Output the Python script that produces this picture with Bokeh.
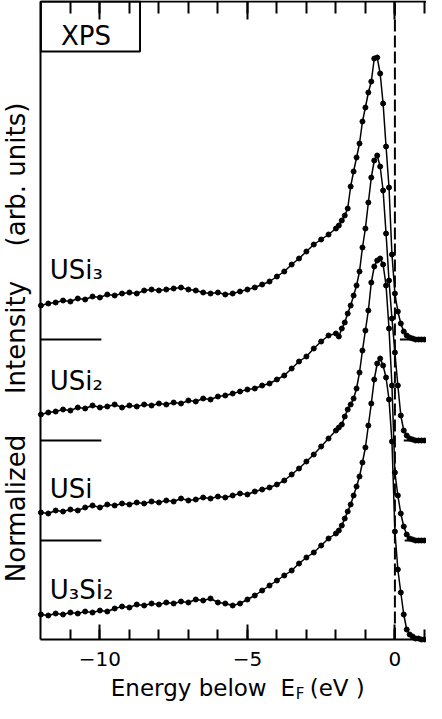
import math
from bokeh.plotting import figure
from bokeh.models import Range1d, LinearAxis, FixedTicker, BoxAnnotation, Label
from bokeh.embed import file_html
from bokeh.resources import INLINE

# ---------------- data ----------------
ENERGY = [-12.0, -11.75, -11.5, -11.25, -11.0, -10.75, -10.5, -10.25, -10.0, -9.75,
          -9.5, -9.25, -9.0, -8.75, -8.5, -8.25, -8.0, -7.75, -7.5, -7.25,
          -7.0, -6.75, -6.5, -6.25, -6.0, -5.75, -5.5, -5.25, -5.0, -4.75,
          -4.5, -4.25, -4.0, -3.75, -3.5, -3.25, -3.0, -2.75, -2.5, -2.25,
          -2.0, -1.9, -1.8, -1.7, -1.6, -1.5, -1.4, -1.3, -1.2, -1.1,
          -1.0, -0.9, -0.8, -0.7, -0.6, -0.5, -0.4, -0.3, -0.2, -0.1,
          0.0, 0.1, 0.2, 0.3, 0.4, 0.5, 0.6, 0.7, 0.8, 0.9, 1.0]

USI3 = [0.34, 0.36, 0.37, 0.39, 0.38, 0.41, 0.40, 0.43, 0.42, 0.45,
        0.44, 0.46, 0.47, 0.46, 0.49, 0.50, 0.49, 0.50, 0.51, 0.52,
        0.50, 0.49, 0.47, 0.46, 0.47, 0.45, 0.46, 0.48, 0.50, 0.52,
        0.55, 0.58, 0.63, 0.68, 0.75, 0.81, 0.88, 0.95, 1.00, 1.05,
        1.11, 1.14, 1.19, 1.24, 1.31, 1.53, 1.68, 1.82, 1.96, 2.18,
        2.32, 2.47, 2.58, 2.81, 2.82, 2.66, 2.36, 1.93, 1.52, 0.85,
        0.46, 0.28, 0.16, 0.08, 0.04, 0.02, 0.01, 0.0, 0.0, 0.0, 0.0]

USI2 = [0.26, 0.28, 0.29, 0.31, 0.30, 0.33, 0.32, 0.35, 0.33, 0.34,
        0.36, 0.33, 0.35, 0.34, 0.36, 0.35, 0.37, 0.36, 0.38, 0.37,
        0.40, 0.39, 0.42, 0.41, 0.44, 0.45, 0.47, 0.49, 0.51, 0.52,
        0.55, 0.57, 0.61, 0.65, 0.72, 0.79, 0.84, 0.92, 0.99, 1.05,
        1.07, 1.04, 1.12, 1.18, 1.27, 1.35, 1.45, 1.55, 1.69, 1.93,
        2.12, 2.38, 2.63, 2.80, 2.85, 2.74, 2.50, 2.07, 1.60, 1.22,
        0.88, 0.55, 0.25, 0.10, 0.05, 0.02, 0.01, 0.0, 0.0, 0.0, 0.0]

USI = [0.28, 0.27, 0.30, 0.29, 0.31, 0.30, 0.33, 0.35, 0.33, 0.36,
       0.35, 0.37, 0.36, 0.38, 0.37, 0.39, 0.38, 0.40, 0.39, 0.42,
       0.40, 0.41, 0.43, 0.42, 0.44, 0.43, 0.45, 0.47, 0.46, 0.49,
       0.51, 0.53, 0.56, 0.60, 0.66, 0.72, 0.79, 0.86, 0.94, 1.02,
       1.10, 1.13, 1.16, 1.24, 1.31, 1.36, 1.42, 1.52, 1.68, 1.90,
       2.10, 2.30, 2.58, 2.74, 2.80, 2.82, 2.76, 2.55, 2.12, 1.55,
       0.68, 0.45, 0.27, 0.14, 0.06, 0.02, 0.01, 0.0, 0.0, 0.0, 0.0]

U3SI2 = [0.25, 0.24, 0.26, 0.25, 0.27, 0.26, 0.28, 0.27, 0.29, 0.28,
         0.31, 0.33, 0.32, 0.35, 0.34, 0.36, 0.35, 0.37, 0.36, 0.38,
         0.37, 0.40, 0.39, 0.41, 0.37, 0.36, 0.34, 0.36, 0.40, 0.44,
         0.49, 0.54, 0.59, 0.64, 0.69, 0.76, 0.82, 0.87, 0.94, 1.01,
         1.06, 1.09, 1.14, 1.21, 1.28, 1.35, 1.44, 1.53, 1.63, 1.77,
         1.92, 2.14, 2.36, 2.60, 2.76, 2.81, 2.74, 2.62, 2.40, 1.98,
         1.08, 0.70, 0.47, 0.25, 0.10, 0.05, 0.03, 0.01, 0.01, 0.0, 0.0]

SERIES = [USI3, USI2, USI, U3SI2]
NAMES = ["USi\u2083", "USi\u2082", "USi", "U\u2083Si\u2082"]
OFFSETS = [3.0, 1.99, 0.99, 0.0]
NAME_Y = [3.70, 2.59, 1.51, 0.50]
BASE_LEFT = [-12.0, -9.95]
BASE_RIGHT_START = [0.17, 0.30, 0.33]

MAJOR_TICKS = [-10, -5, 0]
MINOR_TICKS = [-11, -10, -9, -8, -7, -6, -5, -4, -3, -2, -1, 0, 1]
TICK_LABELS = {-10: "\u221210", -5: "\u22125", 0: "0"}

X_AXIS_LEFT = -12.0          # where the left axis sits
Y_AXIS_BOTTOM = 0.0          # where the bottom axis sits
Y_AXIS_TOP = 6.38            # where the top axis sits
X_START, X_END = -13.37, 1.071
Y_START, Y_END = -0.64, 6.39

FONT = "DejaVu Sans"

# ---------------- figure (frame covers the whole canvas) ----------------
p = figure(width=426, height=703, output_backend="svg", toolbar_location=None,
           x_range=Range1d(X_START, X_END), y_range=Range1d(Y_START, Y_END),
           x_axis_location=None, y_axis_location=None, min_border=0)
p.outline_line_color = None
p.grid.visible = False
p.background_fill_color = "white"
p.border_fill_color = "white"


def style_axis(ax, tick_major, tick_minor, line=True):
    ax.axis_line_width = 2
    ax.axis_line_color = "black" if line else None
    ax.major_tick_in = tick_major
    ax.major_tick_out = 0
    ax.minor_tick_in = tick_minor
    ax.minor_tick_out = 0
    ax.major_tick_line_width = 2
    ax.minor_tick_line_width = 2
    ax.major_tick_line_color = "black"
    ax.minor_tick_line_color = "black"


# bottom axis (with labels)
xb = LinearAxis(ticker=FixedTicker(ticks=MAJOR_TICKS, minor_ticks=MINOR_TICKS),
                major_label_overrides=TICK_LABELS, fixed_location=Y_AXIS_BOTTOM,
                bounds=(X_AXIS_LEFT, X_END))
style_axis(xb, 15, 10)
xb.major_label_text_font = FONT
xb.major_label_text_font_size = "20px"
xb.major_label_text_color = "black"
xb.major_label_standoff = 12
p.add_layout(xb, "below")

# top axis: short ticks + line, then long ticks (no labels)
xt1 = LinearAxis(ticker=FixedTicker(ticks=[], minor_ticks=MINOR_TICKS),
                 fixed_location=Y_AXIS_TOP, bounds=(X_AXIS_LEFT, X_END))
style_axis(xt1, 0, 12)
p.add_layout(xt1, "above")
xt2 = LinearAxis(ticker=FixedTicker(ticks=[], minor_ticks=MAJOR_TICKS),
                 fixed_location=Y_AXIS_TOP, bounds=(X_AXIS_LEFT, X_END))
style_axis(xt2, 0, 18, line=False)
p.add_layout(xt2, "above")

# left axis: plain line
yl = LinearAxis(ticker=FixedTicker(ticks=[]), fixed_location=X_AXIS_LEFT,
                bounds=(Y_AXIS_BOTTOM, Y_AXIS_TOP))
style_axis(yl, 0, 0)
p.add_layout(yl, "left")

# Fermi level
p.line([0, 0], [Y_AXIS_BOTTOM, Y_AXIS_TOP], line_color="black",
       line_width=2, line_dash="12 4")

# baselines
for off, xr in zip(OFFSETS[:3], BASE_RIGHT_START):
    p.line(BASE_LEFT, [off, off], line_color="black", line_width=2)
    p.line([xr, X_END], [off, off], line_color="black", line_width=2)

# spectra
for vals, off in zip(SERIES, OFFSETS):
    ys = [v + off for v in vals]
    p.line(ENERGY, ys, line_color="black", line_width=1.5)
    p.scatter(ENERGY, ys, marker="circle", size=5, color="black")

# series names
for name, ny in zip(NAMES, NAME_Y):
    p.add_layout(Label(x=-11.7, y=ny, text=name, text_font=FONT,
                       text_font_size="26px", text_color="black",
                       text_align="left", text_baseline="middle"))

# XPS box
p.add_layout(BoxAnnotation(left=X_AXIS_LEFT, right=-8.64, bottom=5.88, top=Y_AXIS_TOP,
                           fill_alpha=0, line_color="black", line_alpha=1.0,
                           line_width=2))
p.add_layout(Label(x=-10.47, y=6.04, text="XPS", text_font=FONT,
                   text_font_size="26px", text_color="black",
                   text_align="center", text_baseline="middle"))

# y axis label (three words, rotated)
for word, wy in [("Normalized", 1.31), ("Intensity", 3.02), ("(arb. units)", 4.65)]:
    p.add_layout(Label(x=-12.85, y=wy, text=word, angle=math.pi / 2,
                       text_font=FONT, text_font_size="26px", text_color="black",
                       text_align="center", text_baseline="middle"))

# x axis label with subscript F
XL_Y = -0.48
p.add_layout(Label(x=-9.63, y=XL_Y, text="Energy below", text_font=FONT,
                   text_font_size="23px", text_color="black",
                   text_align="left", text_baseline="middle"))
p.add_layout(Label(x=-3.88, y=XL_Y, text="E", text_font=FONT,
                   text_font_size="23px", text_color="black",
                   text_align="left", text_baseline="middle"))
p.add_layout(Label(x=-3.36, y=-0.54, text="F", text_font=FONT,
                   text_font_size="15px", text_color="black",
                   text_align="left", text_baseline="middle"))
p.add_layout(Label(x=-2.89, y=XL_Y, text="(eV )", text_font=FONT,
                   text_font_size="23px", text_color="black",
                   text_align="left", text_baseline="middle"))

open("out.html", "w").write(file_html(p, INLINE))
